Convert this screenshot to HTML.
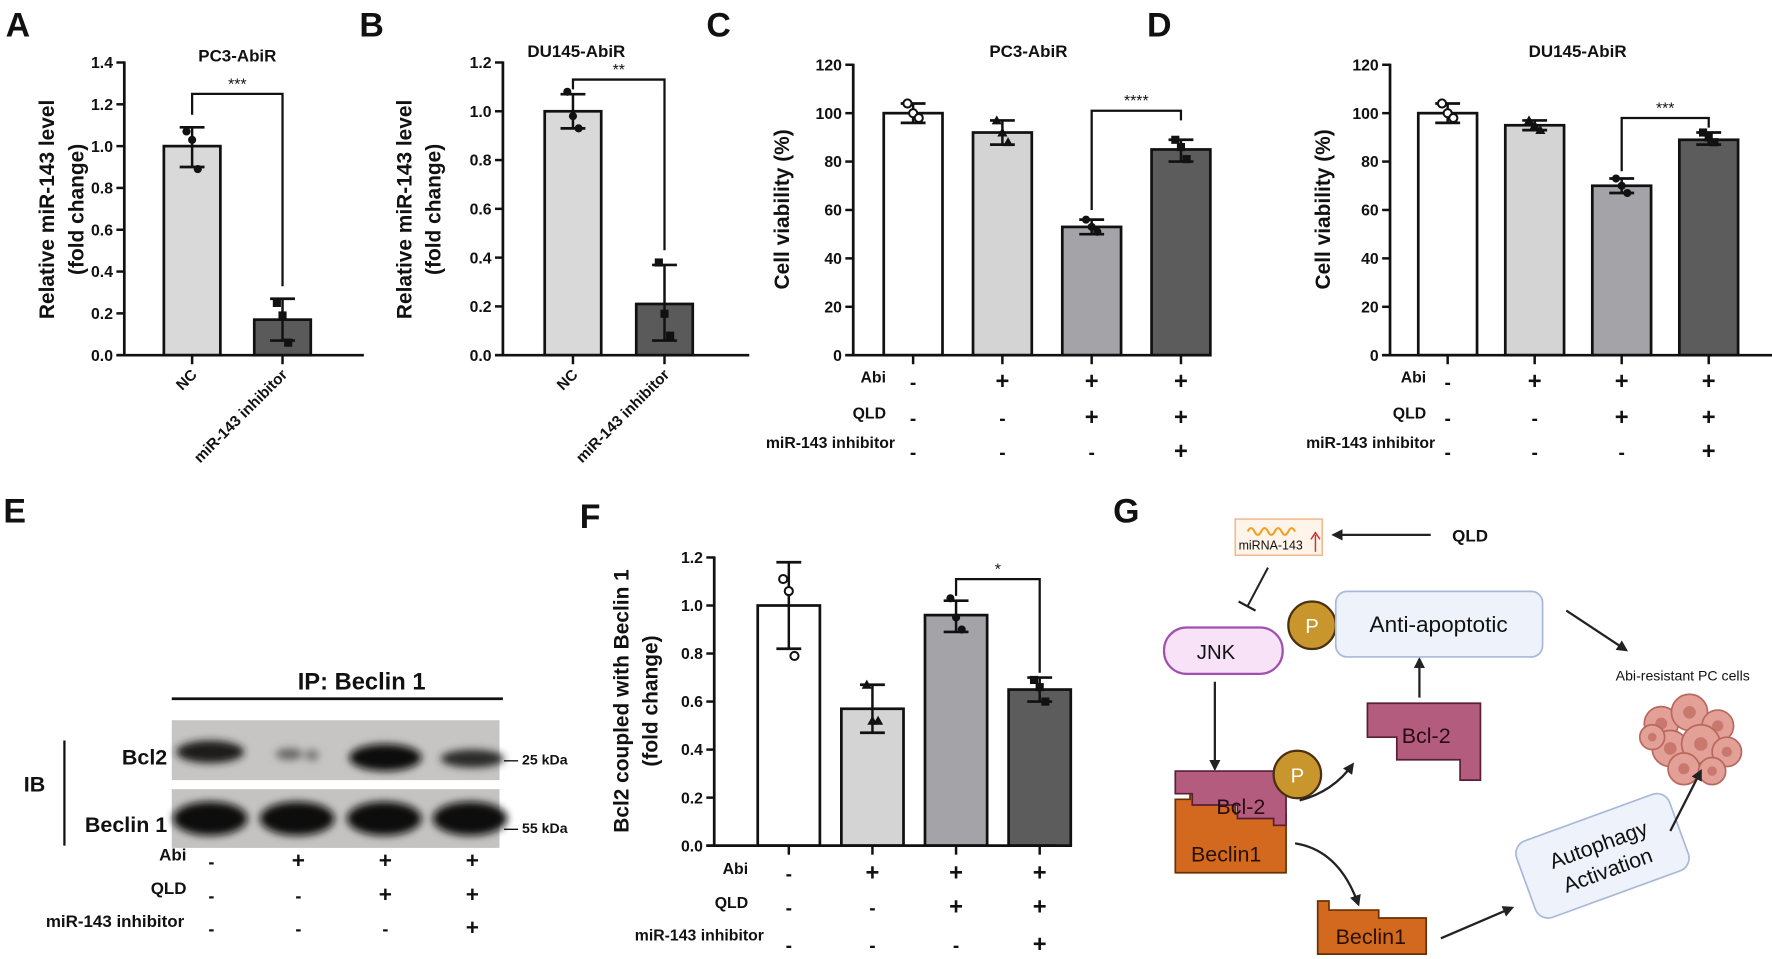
<!DOCTYPE html>
<html><head><meta charset="utf-8">
<style>
html,body{margin:0;padding:0;background:#fff;}
svg{display:block;font-family:"Liberation Sans",Arial,sans-serif;}
</style></head>
<body>
<svg id="fig" width="1772" height="959" viewBox="0 0 1568 848" font-weight="bold" xmlns="http://www.w3.org/2000/svg">
<defs>
<filter id="blur3" x="-30%" y="-50%" width="160%" height="200%"><feGaussianBlur stdDeviation="3.5"/></filter>
<marker id="arr" markerWidth="10" markerHeight="10" refX="8" refY="5" orient="auto" markerUnits="userSpaceOnUse"><path d="M0,0 L10,5 L0,10 Z" fill="#222"/></marker>
</defs>
</svg>
<script>
// ---------- data ----------
const aCategories=['NC','miR-143 inhibitor'];
const aMeans=[1.0,0.17];
const aErrLo=[0.9,0.07];
const aErrHi=[1.09,0.27];
const aPoints=[[1.07,1.03,0.89],[0.25,0.19,0.06]];
const aTicks=['0.0','0.2','0.4','0.6','0.8','1.0','1.2','1.4'];

const bCategories=['NC','miR-143 inhibitor'];
const bMeans=[1.0,0.21];
const bErrLo=[0.93,0.06];
const bErrHi=[1.07,0.37];
const bPoints=[[1.08,0.98,0.93],[0.38,0.17,0.08]];
const bTicks=['0.0','0.2','0.4','0.6','0.8','1.0','1.2'];

const cMeans=[100,92,53,85];
const cErrLo=[96,87,50,80];
const cErrHi=[104,97,56,89];
const cPoints=[[104,100,98],[97,92,88],[56,53,51],[89,86,81]];
const cTicks=['0','20','40','60','80','100','120'];

const dMeans=[100,95,70,89];
const dErrLo=[96,93,67,87];
const dErrHi=[104,97,73,92];
const dPoints=[[104,100,98],[97,95,93],[73,70,67],[92,90,88]];
const dTicks=['0','20','40','60','80','100','120'];

const fMeans=[1.0,0.57,0.96,0.65];
const fErrLo=[0.82,0.47,0.89,0.60];
const fErrHi=[1.18,0.67,1.02,0.70];
const fPoints=[[1.11,1.06,0.79],[0.67,0.52,0.52],[1.03,0.95,0.90],[0.69,0.66,0.60]];
const fTicks=['0.0','0.2','0.4','0.6','0.8','1.0','1.2'];

const condAbi=['-','+','+','+'];
const condQLD=['-','-','+','+'];
const condInh=['-','-','-','+'];

// ---------- helpers ----------
const NS='http://www.w3.org/2000/svg';
const svg=document.getElementById('fig');
function mk(tag,attrs,parent){const e=document.createElementNS(NS,tag);for(const k in attrs)e.setAttribute(k,attrs[k]);(parent||svg).appendChild(e);return e;}
function tx(x,y,s,size,anchor,parent,extra){const e=mk('text',Object.assign({x:x,y:y,'font-size':size,'text-anchor':anchor||'start',fill:'#111'},extra||{}),parent);e.textContent=s;return e;}

function drawChart(p){
  const g=mk('g',{});
  
  
  const y=v=>p.y0-v/p.yMax*(p.y0-p.yTop);
  const xc=i=>p.firstX+i*p.gap;
  p.means.forEach((m,i)=>{
    const r=mk('rect',{x:xc(i)-p.bw/2,y:y(m),width:p.bw,height:p.y0-y(m),fill:p.fills[i],stroke:'#111','stroke-width':2.4},g);
    
    
  });
  p.means.forEach((m,i)=>{
    const eg=mk('g',{},g);
    
    
    mk('line',{x1:xc(i),x2:xc(i),y1:y(p.lo[i]),y2:y(p.hi[i]),stroke:'#111','stroke-width':2.2},eg);
    mk('line',{x1:xc(i)-11,x2:xc(i)+11,y1:y(p.lo[i]),y2:y(p.lo[i]),stroke:'#111','stroke-width':2.4},eg);
    mk('line',{x1:xc(i)-11,x2:xc(i)+11,y1:y(p.hi[i]),y2:y(p.hi[i]),stroke:'#111','stroke-width':2.4},eg);
    const mkType=p.markers[i];
    p.pts[i].forEach((v,k)=>{
      const px=xc(i)+(k-1)*5, py=y(v);
      let pt;
      if(mkType==='o') pt=mk('circle',{cx:px,cy:py,r:3.6,fill:'#fff',stroke:'#111','stroke-width':1.8},eg);
      else if(mkType==='c') pt=mk('circle',{cx:px,cy:py,r:3.6,fill:'#111'},eg);
      else if(mkType==='s') pt=mk('rect',{x:px-3.6,y:py-3.6,width:7.2,height:7.2,fill:'#111'},eg);
      else pt=mk('path',{d:`M${px},${py-4.5} L${px+4.5},${py+3.5} L${px-4.5},${py+3.5} Z`,fill:'#111'},eg);
      
      
    });
  });
  const ya=mk('line',{x1:p.x0,x2:p.x0,y1:p.yTop-1,y2:p.y0+1,stroke:'#111','stroke-width':2.4},g);
  
  
  const xa=mk('line',{x1:p.x0-7,x2:p.xEnd,y1:p.y0,y2:p.y0,stroke:'#111','stroke-width':2.4},g);
  
  
  p.ticks.forEach((t,k)=>{
    const v=k*p.yMax/(p.ticks.length-1);
    mk('line',{x1:p.x0-7,x2:p.x0,y1:y(v),y2:y(v),stroke:'#111','stroke-width':2.2},g);
    const lb=tx(p.x0-10,y(v)+5,t,14,'end',g);
    
    
  });
  p.means.forEach((m,i)=>{mk('line',{x1:xc(i),x2:xc(i),y1:p.y0,y2:p.y0+8,stroke:'#111','stroke-width':2.2},g);});
  const s=p.sig;
  const bg=mk('g',{},g);
  
  
  mk('path',{d:`M${xc(s.i)},${y(s.l)} V${y(s.top)} H${xc(s.j)} V${y(s.r)}`,fill:'none',stroke:'#111','stroke-width':2},bg);
  tx((xc(s.i)+xc(s.j))/2,y(s.top)-4,s.label,14,'middle',bg,{'font-weight':'normal'});
  const yt=mk('text',{transform:`translate(${p.ytx},${p.ytY}) rotate(-90)`,'font-size':18.5,'text-anchor':'middle',fill:'#111'},g);
  
  
  p.ytitle.forEach((line,k)=>{const ts=mk('tspan',{x:0,dy:k===0?0:26},yt);ts.textContent=line;});
  if(p.title){const t=tx(p.titleX,p.titleY,p.title,15,'middle',g);}
  if(p.cats){p.cats.forEach((c,i)=>{
    const t=mk('text',{transform:`translate(${xc(i)+5},${p.y0+18}) rotate(-45)`,'font-size':13.5,'text-anchor':'end',fill:'#111'},g);
    t.textContent=c;
    
    
  });}
  if(p.rows){
    const names=['Abi','QLD','miR-143 inhibitor'];
    const arrs=[condAbi,condQLD,condInh];
    arrs.forEach((arr,r)=>{
      const lx=r===2?p.inhLabelX:p.rowLabelX;
      const lb=tx(lx,p.rowY[r]-2,names[r],14,'end',g);
      
      
      arr.forEach((sym,i)=>{
        const t=tx(xc(i),p.rowY[r]+(r===2?8:4),sym,sym==='+'?21:17,'middle',g);
        
        
      });
    });
  }
}

drawChart({name:'chart-a',x0:110,y0:314,yTop:55,yMax:1.4,firstX:170,gap:80,bw:50,xEnd:322,
  means:aMeans,lo:aErrLo,hi:aErrHi,pts:aPoints,fills:['#d9d9d9','#5a5a5a'],markers:['c','s'],
  ticks:aTicks,sig:{i:0,j:1,l:1.15,top:1.25,r:0.33,label:'***'},
  ytitle:['Relative miR-143 level','(fold change)'],ytx:48,ytY:185,title:'PC3-AbiR',titleX:210,titleY:54,cats:aCategories});
drawChart({name:'chart-b',x0:445,y0:314,yTop:55,yMax:1.2,firstX:507,gap:81,bw:50,xEnd:663,
  means:bMeans,lo:bErrLo,hi:bErrHi,pts:bPoints,fills:['#d9d9d9','#5a5a5a'],markers:['c','s'],
  ticks:bTicks,sig:{i:0,j:1,l:1.09,top:1.13,r:0.43,label:'**'},
  ytitle:['Relative miR-143 level','(fold change)'],ytx:364,ytY:185,title:'DU145-AbiR',titleX:510,titleY:50,cats:bCategories});
drawChart({name:'chart-c',x0:755,y0:314,yTop:57,yMax:120,firstX:808,gap:79,bw:52,xEnd:1072,
  means:cMeans,lo:cErrLo,hi:cErrHi,pts:cPoints,fills:['#ffffff','#d4d4d4','#a3a3a8','#5c5c5c'],markers:['o','t','c','s'],
  ticks:cTicks,sig:{i:2,j:3,l:60,top:101,r:97,label:'****'},
  ytitle:['Cell viability (%)'],ytx:698,ytY:185,title:'PC3-AbiR',titleX:910,titleY:50,
  rows:true,rowLabelX:784,inhLabelX:792,rowY:[340,372,398]});
drawChart({name:'chart-d',x0:1230,y0:314,yTop:57,yMax:120,firstX:1281,gap:77,bw:52,xEnd:1568,
  means:dMeans,lo:dErrLo,hi:dErrHi,pts:dPoints,fills:['#ffffff','#d4d4d4','#a3a3a8','#5c5c5c'],markers:['o','t','c','s'],
  ticks:dTicks,sig:{i:2,j:3,l:76,top:98,r:94,label:'***'},
  ytitle:['Cell viability (%)'],ytx:1177,ytY:185,title:'DU145-AbiR',titleX:1396,titleY:50,
  rows:true,rowLabelX:1262,inhLabelX:1270,rowY:[340,372,398]});
drawChart({name:'chart-f',x0:632,y0:748,yTop:493,yMax:1.2,firstX:698,gap:74,bw:55,xEnd:935,
  means:fMeans,lo:fErrLo,hi:fErrHi,pts:fPoints,fills:['#ffffff','#d4d4d4','#a3a3a8','#5c5c5c'],markers:['o','t','c','s'],
  ticks:fTicks,sig:{i:2,j:3,l:1.04,top:1.11,r:0.72,label:'*'},
  ytitle:['Bcl2 coupled with Beclin 1','(fold change)'],ytx:556,ytY:620,
  rows:true,rowLabelX:662,inhLabelX:676,rowY:[775,805,834]});

[['A',5,32],['B',318,32],['C',625,32],['D',1015,32],['E',3,462],['F',513,467],['G',985,462]].forEach(l=>{
  const t=tx(l[1],l[2],l[0],30,'start');
  
  
});

// ---------- panel E ----------
const eg=mk('g',{});


const narrow={'font-family':'"Liberation Sans Narrow","Liberation Sans",sans-serif'};
tx(320,610,'IP: Beclin 1',21,'middle',eg,narrow);
mk('line',{x1:152,x2:445,y1:618,y2:618,stroke:'#111','stroke-width':2.5},eg);
const blot1=mk('rect',{x:152,y:637,width:290,height:53,fill:'#c6c5c3'},eg);


const blot2=mk('rect',{x:152,y:698,width:290,height:52,fill:'#c4c3c1'},eg);


const bandG=mk('g',{filter:'url(#blur3)'},eg);
mk('ellipse',{cx:186,cy:665,rx:30,ry:10,fill:'#1a1a1a'},bandG);
mk('ellipse',{cx:256,cy:667,rx:12,ry:5,fill:'#666'},bandG);
mk('ellipse',{cx:276,cy:668,rx:6,ry:5,fill:'#777'},bandG);
mk('ellipse',{cx:341,cy:670,rx:32,ry:12,fill:'#111'},bandG);
mk('ellipse',{cx:418,cy:671,rx:28,ry:8,fill:'#2a2a2a'},bandG);
[186,263,340,416].forEach(cx=>mk('ellipse',{cx:cx,cy:724,rx:33,ry:15,fill:'#0e0e0e'},bandG));
mk('line',{x1:57,x2:57,y1:655,y2:748,stroke:'#111','stroke-width':2},eg);
tx(40,700,'IB',19,'end',eg,narrow);
tx(148,676,'Bcl2',19,'end',eg,narrow);
tx(148,736,'Beclin 1',19,'end',eg,narrow);
tx(446,676,'— 25 kDa',12.5,'start',eg,narrow);
tx(446,737,'— 55 kDa',12.5,'start',eg,narrow);
const eRowsY=[765,795,824];
const eNames=['Abi','QLD','miR-143 inhibitor'];
const eArrs=[condAbi,condQLD,condInh];
eArrs.forEach((arr,r)=>{
  tx(r===2?163:165,eRowsY[r]-4,eNames[r],15,'end',eg,narrow);
  arr.forEach((s,i)=>tx(187+i*77,eRowsY[r]+3,s,s==='+'?20:16,'middle',eg));
});

// ---------- panel G ----------
const gg=mk('g',{'font-weight':'normal'});


function ntx(x,y,s,size,anchor,extra){return tx(x,y,s,size,anchor,gg,Object.assign({'font-weight':'normal'},extra||{}));}
const mbox=mk('rect',{x:1093,y:459,width:77,height:32,fill:'#fff4ea',stroke:'#f0b080','stroke-width':1.2},gg);


mk('path',{d:'M1104,470 q3,-6 6,0 t6,0 t6,0 t6,0 t6,0 t6,0 t6,0',fill:'none',stroke:'#f0a020','stroke-width':1.8},gg);
ntx(1096,486,'miRNA-143',11,'start');
mk('line',{x1:1164,y1:488,x2:1164,y2:473,stroke:'#d03030','stroke-width':1.3},gg);
mk('path',{d:'M1160,477 L1164,471 L1168,477',fill:'none',stroke:'#d03030','stroke-width':1.3},gg);
mk('line',{x1:1266,y1:473,x2:1180,y2:473,stroke:'#222','stroke-width':2,'marker-end':'url(#arr)'},gg);
tx(1285,479,'QLD',15,'start',gg,{'font-weight':'bold'});
mk('line',{x1:1122,y1:502,x2:1104,y2:536,stroke:'#222','stroke-width':1.8},gg);
mk('line',{x1:1096,y1:532,x2:1111,y2:540,stroke:'#222','stroke-width':2},gg);
const jnk=mk('rect',{x:1030,y:555,width:105,height:41,rx:20,fill:'#f7e2f7',stroke:'#a050b0','stroke-width':2},gg);


ntx(1076,583,'JNK',18,'middle');
function pCircle(cx,cy){mk('circle',{cx:cx,cy:cy,r:21,fill:'#c8962c',stroke:'#4a3010','stroke-width':2},gg);ntx(cx,cy+7,'P',18,'middle',{fill:'#fff'});}
pCircle(1161,553);
mk('line',{x1:1075,y1:603,x2:1075,y2:680,stroke:'#222','stroke-width':2,'marker-end':'url(#arr)'},gg);
mk('path',{d:'M1040,772 V707 H1053 V702 H1093 V720 H1138 V772 Z',fill:'#d2691e',stroke:'#6a3000','stroke-width':1.5},gg);
mk('path',{d:'M1040,682 H1138 V730 H1127 V724 H1095 V712 H1055 V702 H1040 Z',fill:'#b35c7e',stroke:'#5a1e36','stroke-width':1.5},gg);
ntx(1098,720,'Bcl-2',19,'middle',{fill:'#2a0a14'});
ntx(1085,762,'Beclin1',19,'middle',{fill:'#2a1000'});
pCircle(1148,685);
mk('path',{d:'M1150,708 Q1180,700 1197,676',fill:'none',stroke:'#222','stroke-width':2,'marker-end':'url(#arr)'},gg);
mk('path',{d:'M1210,622 H1310 V690 H1292 V672 H1236 V652 H1210 Z',fill:'#b35c7e',stroke:'#5a1e36','stroke-width':1.5},gg);
ntx(1262,657,'Bcl-2',19,'middle',{fill:'#2a0a14'});
mk('line',{x1:1256,y1:617,x2:1256,y2:583,stroke:'#222','stroke-width':2,'marker-end':'url(#arr)'},gg);
const anti=mk('rect',{x:1182,y:523,width:183,height:58,rx:10,fill:'#eef2fb',stroke:'#a8b8d8','stroke-width':1.5},gg);


ntx(1273,559,'Anti-apoptotic',20,'middle');
mk('line',{x1:1386,y1:540,x2:1439,y2:575,stroke:'#222','stroke-width':2,'marker-end':'url(#arr)'},gg);
ntx(1489,602,'Abi-resistant PC cells',12.5,'middle');
const cg=mk('g',{},gg);


[[1470,640,15],[1495,630,16],[1520,642,14],[1478,662,16],[1505,658,17],[1528,665,13],[1490,680,14],[1515,682,12],[1462,652,11]].forEach(c=>{
  mk('circle',{cx:c[0],cy:c[1],r:c[2],fill:'#e3a096',stroke:'#b8685e','stroke-width':1.5},cg);
  mk('circle',{cx:c[0],cy:c[1],r:c[2]*0.35,fill:'#c8786c'},cg);
});
mk('path',{d:'M1146,746 Q1185,752 1202,800',fill:'none',stroke:'#222','stroke-width':2,'marker-end':'url(#arr)'},gg);
mk('path',{d:'M1166,844 V797 H1176 V805 H1220 V812 H1262 V844 Z',fill:'#d2691e',stroke:'#6a3000','stroke-width':1.5},gg);
ntx(1213,835,'Beclin1',19,'middle',{fill:'#2a1000'});
mk('line',{x1:1275,y1:830,x2:1338,y2:803,stroke:'#222','stroke-width':2,'marker-end':'url(#arr)'},gg);
const auto=mk('g',{transform:'translate(1418,757) rotate(-20)'},gg);


mk('rect',{x:-72,y:-36,width:144,height:72,rx:12,fill:'#eef2fb',stroke:'#a8b8d8','stroke-width':1.5},auto);
tx(0,-4,'Autophagy',19,'middle',auto,{'font-weight':'normal'});
tx(0,20,'Activation',19,'middle',auto,{'font-weight':'normal'});
mk('line',{x1:1478,y1:735,x2:1505,y2:682,stroke:'#222','stroke-width':2,'marker-end':'url(#arr)'},gg);
</script>
</body></html>
